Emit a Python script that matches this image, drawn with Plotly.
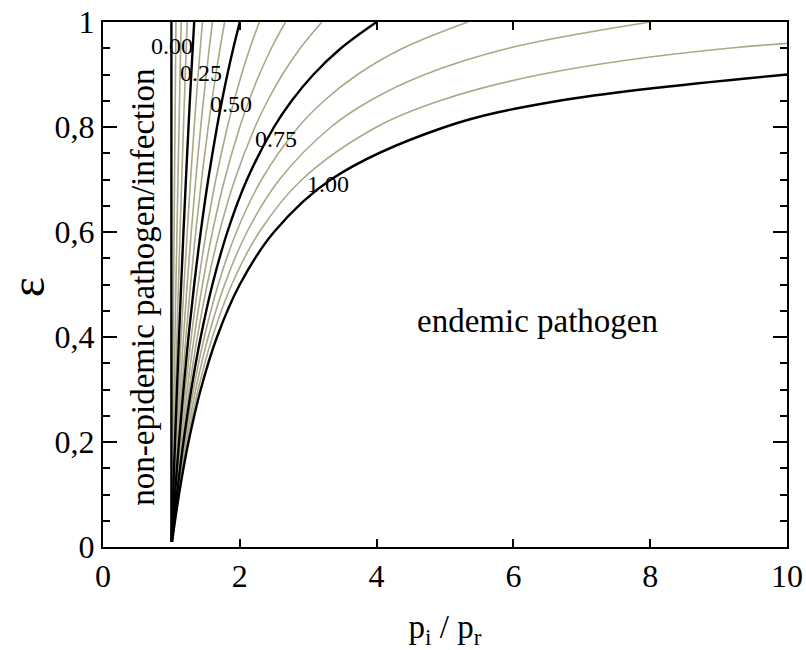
import plotly.graph_objects as go

# epsilon grid shared by every curve
eps_grid = [0.01, 0.05, 0.1, 0.15, 0.2, 0.3, 0.4, 0.5, 0.6, 0.7, 0.8, 0.85, 0.9, 0.95, 1.0]

# p_i / p_r along each curve, one list per parameter level (k/16)
ratio_00 = [1.0, 1.0, 1.0, 1.0, 1.0, 1.0, 1.0, 1.0, 1.0, 1.0, 1.0, 1.0, 1.0, 1.0, 1.0]
ratio_01 = [1.0006, 1.0031, 1.0063, 1.0095, 1.0127, 1.0191, 1.0256, 1.0323, 1.0390, 1.0458, 1.0526, 1.0561, 1.0596, 1.0631, 1.0667]
ratio_02 = [1.0013, 1.0063, 1.0127, 1.0191, 1.0256, 1.0390, 1.0526, 1.0667, 1.0811, 1.0959, 1.1111, 1.1189, 1.1268, 1.1348, 1.1429]
ratio_03 = [1.0019, 1.0095, 1.0191, 1.0289, 1.0390, 1.0596, 1.0811, 1.1034, 1.1268, 1.1511, 1.1765, 1.1896, 1.2030, 1.2167, 1.2308]
ratio_04 = [1.0025, 1.0127, 1.0256, 1.0390, 1.0526, 1.0811, 1.1111, 1.1429, 1.1765, 1.2121, 1.2500, 1.2698, 1.2903, 1.3115, 1.3333]
ratio_05 = [1.0031, 1.0159, 1.0323, 1.0492, 1.0667, 1.1034, 1.1429, 1.1852, 1.2308, 1.2800, 1.3333, 1.3617, 1.3913, 1.4222, 1.4545]
ratio_06 = [1.0038, 1.0191, 1.0390, 1.0596, 1.0811, 1.1268, 1.1765, 1.2308, 1.2903, 1.3559, 1.4286, 1.4679, 1.5094, 1.5534, 1.6000]
ratio_07 = [1.0044, 1.0224, 1.0458, 1.0702, 1.0959, 1.1511, 1.2121, 1.2800, 1.3559, 1.4414, 1.5385, 1.5920, 1.6495, 1.7112, 1.7778]
ratio_08 = [1.0050, 1.0256, 1.0526, 1.0811, 1.1111, 1.1765, 1.2500, 1.3333, 1.4286, 1.5385, 1.6667, 1.7391, 1.8182, 1.9048, 2.0000]
ratio_09 = [1.0057, 1.0289, 1.0596, 1.0922, 1.1268, 1.2030, 1.2903, 1.3913, 1.5094, 1.6495, 1.8182, 1.9162, 2.0253, 2.1477, 2.2857]
ratio_10 = [1.0063, 1.0323, 1.0667, 1.1034, 1.1429, 1.2308, 1.3333, 1.4545, 1.6000, 1.7778, 2.0000, 2.1333, 2.2857, 2.4615, 2.6667]
ratio_11 = [1.0069, 1.0356, 1.0738, 1.1150, 1.1594, 1.2598, 1.3793, 1.5238, 1.7021, 1.9277, 2.2222, 2.4060, 2.6230, 2.8829, 3.2000]
ratio_12 = [1.0076, 1.0390, 1.0811, 1.1268, 1.1765, 1.2903, 1.4286, 1.6000, 1.8182, 2.1053, 2.5000, 2.7586, 3.0769, 3.4783, 4.0000]
ratio_13 = [1.0082, 1.0423, 1.0884, 1.1388, 1.1940, 1.3223, 1.4815, 1.6842, 1.9512, 2.3188, 2.8571, 3.2323, 3.7209, 4.3836, 5.3333]
ratio_14 = [1.0088, 1.0458, 1.0959, 1.1511, 1.2121, 1.3559, 1.5385, 1.7778, 2.1053, 2.5806, 3.3333, 3.9024, 4.7059, 5.9259, 8.0000]
ratio_15 = [1.0095, 1.0492, 1.1034, 1.1636, 1.2308, 1.3913, 1.6000, 1.8824, 2.2857, 2.9091, 4.0000, 4.9231, 6.4000, 9.1429, 16.000]
ratio_16 = [1.0101, 1.0526, 1.1111, 1.1765, 1.2500, 1.4286, 1.6667, 2.0000, 2.5000, 3.3333, 5.0000, 6.6667, 10.000, None, None]

curves = [ratio_00, ratio_01, ratio_02, ratio_03, ratio_04, ratio_05, ratio_06, ratio_07, ratio_08,
          ratio_09, ratio_10, ratio_11, ratio_12, ratio_13, ratio_14, ratio_15, ratio_16]

# labelled levels and where their labels sit
level_labels = ["0.00", "0.25", "0.50", "0.75", "1.00"]
label_x = [1.01, 1.43, 1.87, 2.53, 3.29]
label_y = [0.954, 0.903, 0.844, 0.777, 0.691]

y_tickvals = [0, 0.2, 0.4, 0.6, 0.8, 1.0]
y_ticktext = ["0", "0,2", "0,4", "0,6", "0,8", "1"]
x_tickvals = [0, 2, 4, 6, 8, 10]

SERIF = "Liberation Serif, Times New Roman, serif"
OLIVE = "rgb(170,168,135)"

fig = go.Figure()

# thin intermediate curves first, labelled (black) curves on top
for k, xs in enumerate(curves):
    if k % 4 != 0:
        fig.add_trace(go.Scatter(x=xs, y=eps_grid, mode="lines",
                                 line=dict(color=OLIVE, width=1.6, shape="spline"),
                                 hoverinfo="skip", showlegend=False))
for k, xs in enumerate(curves):
    if k % 4 == 0:
        fig.add_trace(go.Scatter(x=xs, y=eps_grid, mode="lines",
                                 line=dict(color="black", width=2.4, shape="spline"),
                                 hoverinfo="skip", showlegend=False))

for txt, lx, ly in zip(level_labels, label_x, label_y):
    fig.add_annotation(x=lx, y=ly, text=txt, showarrow=False,
                       font=dict(family=SERIF, size=24, color="black"),
                       xanchor="center", yanchor="middle")

fig.add_annotation(x=6.355, y=0.43, text="endemic pathogen", showarrow=False,
                   font=dict(family=SERIF, size=33, color="black"),
                   xanchor="center", yanchor="middle")
fig.add_annotation(x=0.585, y=0.494, text="non-epidemic pathogen/infection", showarrow=False,
                   textangle=-90,
                   font=dict(family=SERIF, size=33, color="black"),
                   xanchor="center", yanchor="middle")

# vertical axis symbol
fig.add_annotation(xref="paper", yref="paper", x=-0.111, y=0.495,
                   text="ε", showarrow=False, textangle=-90,
                   font=dict(family=SERIF, size=48, color="black"),
                   xanchor="center", yanchor="middle")

fig.update_xaxes(range=[0, 10], tickmode="array", tickvals=x_tickvals,
                 ticks="inside", ticklen=8, tickwidth=1.5, tickcolor="black",
                 showline=True, linewidth=2, linecolor="black", mirror="ticks",
                 showgrid=False, zeroline=False, automargin=False,
                 title=dict(text="p<sub>i</sub> / p<sub>r</sub>", standoff=22,
                            font=dict(family=SERIF, size=33, color="black")),
                 tickfont=dict(family=SERIF, size=32, color="black"))
fig.update_yaxes(range=[0, 1], tickmode="array", tickvals=y_tickvals, ticktext=y_ticktext,
                 ticks="inside", ticklen=14, tickwidth=1.5, tickcolor="black",
                 minor=dict(tickmode="linear", tick0=0, dtick=0.05, ticks="inside",
                            ticklen=7, tickwidth=1.5, tickcolor="black", showgrid=False),
                 showline=True, linewidth=2, linecolor="black", mirror="ticks",
                 showgrid=False, zeroline=False, automargin=False,
                 tickfont=dict(family=SERIF, size=32, color="black"))

fig.update_layout(width=806, height=650,
                  margin=dict(l=103, r=19, t=22, b=103, autoexpand=False),
                  plot_bgcolor="white", paper_bgcolor="white")

fig.write_html("out.html")
